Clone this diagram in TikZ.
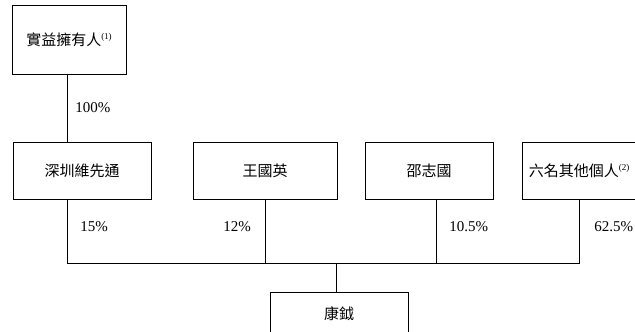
\documentclass[tikz,border=0pt]{standalone}
\usepackage{fontspec}
\setmainfont{Liberation Serif}
\newfontfamily\cjk{Noto Sans CJK TC}
\usetikzlibrary{positioning}
\newcommand{\fnmark}[1]{\raisebox{6pt}{\rmfamily\fontsize{9}{9}\selectfont(#1)}}

\begin{document}
\begin{tikzpicture}[%
  x=1pt, y=-1pt,
  line width=0.9pt,
  font=\fontsize{15}{18}\selectfont,
  holder/.style={draw, line width=0.9pt, inner sep=0pt, minimum height=57pt,
    font=\cjk\fontsize{15}{18}\selectfont},
  share/.style={anchor=west, inner sep=0pt}]

  \useasboundingbox (0,0) rectangle (635,332);
  \clip (0,0) rectangle (635,332);

  \node[holder, minimum width=114pt, minimum height=69pt] (owner) at (69,39.5) {實益擁有人\fnmark{1}};
  \node[holder, minimum width=138pt] (szwxt) at (82,170.5) {深圳維先通};
  \node[holder, minimum width=144pt] (wang) at (265,170.5) {王國英};
  \node[holder, minimum width=128pt] (shao) at (429,170.5) {邵志國};
  \node[holder, minimum width=114pt] (six) at (579,170.5) {六名其他個人\fnmark{2}};
  \node[holder, minimum width=138pt, minimum height=44pt] (kangyue) at (339,314) {康鉞};

  \coordinate (bus) at (336,263);

  \draw ([xshift=-2pt]owner.south) -- ([xshift=-15pt]szwxt.north);
  \draw ([xshift=-15pt]szwxt.south) |- (six.south |- bus) -- (six.south);
  \draw (wang.south) -- (wang.south |- bus);
  \draw ([xshift=7pt]shao.south) -- ([xshift=7pt]shao.south |- bus);
  \draw (bus) -- (bus |- kangyue.north);

  \node[share] (p100) at (75,108) {100\%};
  \node[share] (p15) at (80,227) {15\%};
  \node[share] (p12) at (223,227) {12\%};
  \node[share] (p105) at (449,227) {10.5\%};
  \node[share] (p625) at (594,227) {62.5\%};
\end{tikzpicture}
\end{document}
